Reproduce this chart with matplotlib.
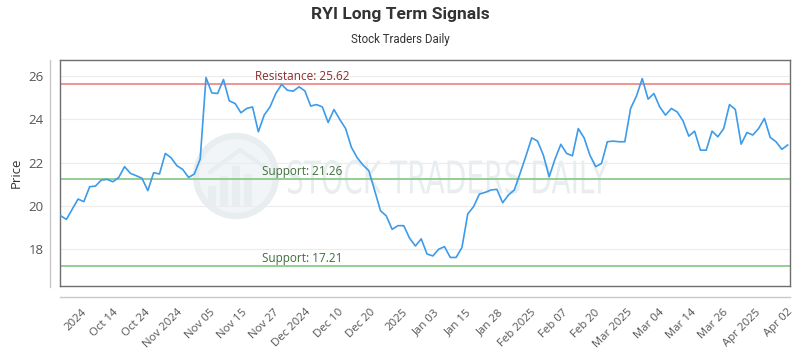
import numpy as np
import matplotlib
matplotlib.use("Agg")
import matplotlib.pyplot as plt
from matplotlib.lines import Line2D
from matplotlib.patches import Ellipse, PathPatch, Rectangle
from matplotlib.textpath import TextPath
from matplotlib.font_manager import FontProperties
from matplotlib.transforms import Affine2D

# daily closing prices
prices = [19.55, 19.38, 19.85, 20.32, 20.20, 20.89, 20.92, 21.20, 21.23, 21.12,
          21.32, 21.82, 21.51, 21.40, 21.28, 20.71, 21.54, 21.48, 22.43, 22.23,
          21.86, 21.69, 21.32, 21.48, 22.17, 25.94, 25.23, 25.20, 25.85, 24.86,
          24.74, 24.31, 24.51, 24.58, 23.43, 24.20, 24.58, 25.20, 25.62, 25.35,
          25.31, 25.51, 25.32, 24.62, 24.69, 24.58, 23.86, 24.46, 24.00, 23.58,
          22.71, 22.23, 21.89, 21.63, 20.71, 19.78, 19.54, 18.92, 19.09, 19.09,
          18.51, 18.15, 18.48, 17.78, 17.69, 18.00, 18.12, 17.62, 17.62, 18.08,
          19.63, 19.97, 20.55, 20.63, 20.74, 20.77, 20.15, 20.51, 20.74, 21.51,
          22.31, 23.15, 23.00, 22.35, 21.35, 22.17, 22.85, 22.43, 22.32, 23.58,
          23.15, 22.35, 21.82, 21.97, 22.97, 23.00, 22.97, 22.97, 24.51, 25.08,
          25.89, 24.94, 25.20, 24.58, 24.20, 24.51, 24.35, 23.94, 23.23, 23.46,
          22.58, 22.58, 23.46, 23.20, 23.58, 24.69, 24.46, 22.86, 23.40, 23.28,
          23.58, 24.05, 23.17, 22.97, 22.62, 22.82]

tick_labels = ["2024", "Oct 14", "Oct 24", "Nov 2024", "Nov 05", "Nov 15", "Nov 27",
               "Dec 2024", "Dec 10", "Dec 20", "2025", "Jan 03", "Jan 15", "Jan 28",
               "Feb 2025", "Feb 07", "Feb 20", "Mar 2025", "Mar 04", "Mar 14",
               "Mar 26", "Apr 2025", "Apr 02"]

y_ticks = [18, 20, 22, 24, 26]
resistance = 25.62
support_hi = 21.26
support_lo = 17.21

W, H = 800, 350


def fx(px):
    return px / W


def fy(py):
    return 1 - py / H


fig = plt.figure(figsize=(8, 3.5), dpi=100)
ax = fig.add_axes([fx(60), fy(286), fx(790) - fx(60), fy(60) - fy(286)])
ax.patch.set_visible(False)

# watermark logo + text (figure coords, drawn under the line)
wm = "#e8edf0"
ax.add_artist(Ellipse((fx(236), fy(176)), 80 / W, 80 / H, transform=fig.transFigure,
                      facecolor="#f2f5f7", edgecolor=wm, lw=4.5, zorder=0.5, clip_on=False))
for bx, bh in zip([208, 220, 232, 244], [20, 30, 40, 32]):
    ax.add_artist(Rectangle((fx(bx), fy(206)), 8 / W, bh / H, transform=fig.transFigure,
                            facecolor=wm, edgecolor="none", zorder=0.6, clip_on=False))
ax.add_artist(Line2D([fx(210), fx(240), fx(266)], [fy(172), fy(150), fy(168)],
                     transform=fig.transFigure, color=wm, lw=3, zorder=0.6, clip_on=False))

tp = TextPath((0, 0), "STOCK TRADERS DAILY", size=10,
              prop=FontProperties(family="DejaVu Sans", weight="normal"))
ext = tp.get_extents()
x0, x1, y0, y1 = 288, 608, 160, 194
tr = (Affine2D().translate(-ext.x0, -ext.y0)
      .scale((fx(x1) - fx(x0)) / ext.width, (fy(y0) - fy(y1)) / ext.height)
      .translate(fx(x0), fy(y1)) + fig.transFigure)
ax.add_artist(PathPatch(tp, transform=tr, facecolor=wm, edgecolor="none",
                        zorder=0.6, clip_on=False))

# level lines
ax.axhline(resistance, color="#f08a8a", lw=1.3, zorder=1.5)
ax.axhline(support_hi, color="#8ccb8c", lw=1.3, zorder=1.5)
ax.axhline(support_lo, color="#8ccb8c", lw=1.3, zorder=1.5)

lbl = dict(xycoords=("axes fraction", "data"), textcoords="offset points",
           va="baseline", ha="left", fontsize=8.5, family="Open Sans")
ax.annotate(f"Resistance: {resistance:.2f}", xy=(0.267, resistance), xytext=(0, 3),
            color="#8b2c2c", **lbl)
ax.annotate(f"Support: {support_hi:.2f}", xy=(0.277, support_hi), xytext=(0, 3),
            color="#3f6e3a", **lbl)
ax.annotate(f"Support: {support_lo:.2f}", xy=(0.277, support_lo), xytext=(0, 3),
            color="#3f6e3a", **lbl)

# price line
x = np.arange(len(prices))
ax.plot(x, prices, color="#3d9be9", lw=1.2, zorder=3)

ax.set_xlim(-0.1, len(prices) - 0.6)
ax.set_ylim(16.3, 26.75)

ax.set_yticks(y_ticks)
ax.set_yticklabels([str(v) for v in y_ticks])
ax.grid(axis="y", color="#ececec", lw=0.8, zorder=0)
ax.set_axisbelow(True)

ax.set_xticks(np.linspace(3.5, 124.9, len(tick_labels)))
ax.set_xticklabels(tick_labels, rotation=45, ha="right", rotation_mode="anchor")

ax.tick_params(axis="y", length=0, pad=12, labelsize=9.5, labelcolor="#555555")
ax.tick_params(axis="x", length=0, pad=15, labelsize=8.2, labelcolor="#555555")
for lab in ax.get_xticklabels() + ax.get_yticklabels():
    lab.set_family("Open Sans")

for s in ax.spines.values():
    s.set_color("#6e6e6e")
    s.set_linewidth(1)

# outer light axis lines
fig.add_artist(Line2D([fx(50), fx(50)], [fy(60), fy(287)], color="#c8c8c8", lw=1))
fig.add_artist(Line2D([fx(60), fx(790)], [fy(297), fy(297)], color="#c8c8c8", lw=1))

fig.text(fx(16), fy(173), "Price", rotation=90, ha="center", va="center",
         fontsize=9.5, color="#333333", family="Open Sans")
fig.text(0.5, fy(15), "RYI Long Term Signals", ha="center", va="center",
         fontsize=12.5, weight="bold", color="#333333", family="Roboto")
fig.text(0.5, fy(40), "Stock Traders Daily", ha="center", va="center",
         fontsize=8.3, color="#333333", family="Roboto")

fig.savefig("out.png", dpi=100)
